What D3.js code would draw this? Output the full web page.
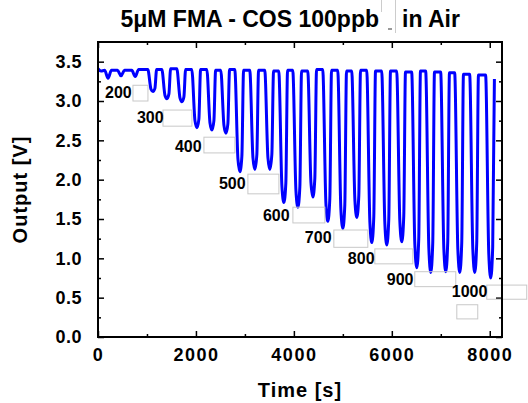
<!DOCTYPE html>
<html>
<head>
<meta charset="utf-8">
<script src="https://cdn.jsdelivr.net/npm/d3@7"></script>
<style>
  body { margin: 0; background: #fff; }
  text { font-family: "Liberation Sans", Arial, sans-serif; font-weight: bold; fill: #000; }
</style>
</head>
<body>
<svg id="chart"></svg>
<script>
(() => {

    const WIDTH = 528;
    const HEIGHT = 403;
    const MARGIN = {top: 42, right: 26, bottom: 66, left: 98};

    // sensor trace, [time (s), output (V)]
    const trace = [
        [0, 3.41], [60, 3.38],
        [135, 3.39], [205, 3.29], [275, 3.39],
        [400, 3.39], [470, 3.32], [540, 3.39],
        [690, 3.39], [760, 3.31], [830, 3.40],
        [1017, 3.40], [1082, 3.15], [1122, 3.12], [1162, 3.16], [1197, 3.40],
        [1303, 3.40], [1368, 3.07], [1408, 3.03], [1448, 3.09], [1483, 3.41],
        [1609, 3.41], [1674, 3.04], [1714, 2.99], [1754, 3.05], [1789, 3.40],
        [1915, 3.40], [1980, 2.75], [2020, 2.66], [2060, 2.77], [2095, 3.40],
        [2222, 3.40], [2287, 2.72], [2327, 2.63], [2367, 2.75], [2402, 3.39],
        [2507, 3.39], [2572, 2.69], [2612, 2.59], [2652, 2.71], [2687, 3.40],
        [2793, 3.40], [2858, 2.26], [2898, 2.10], [2938, 2.30], [2973, 3.39],
        [3099, 3.39], [3164, 2.28], [3204, 2.13], [3244, 2.32], [3279, 3.39],
        [3405, 3.39], [3470, 2.28], [3510, 2.13], [3550, 2.32], [3585, 3.38],
        [3691, 3.38], [3756, 1.91], [3796, 1.71], [3836, 1.96], [3871, 3.39],
        [3977, 3.39], [4042, 1.86], [4082, 1.65], [4122, 1.91], [4157, 3.38],
        [4283, 3.38], [4348, 1.97], [4388, 1.78], [4428, 2.02], [4463, 3.40],
        [4589, 3.40], [4654, 1.70], [4694, 1.47], [4734, 1.76], [4769, 3.39],
        [4895, 3.39], [4960, 1.62], [5000, 1.38], [5040, 1.68], [5075, 3.38],
        [5181, 3.38], [5246, 1.74], [5286, 1.52], [5326, 1.80], [5361, 3.39],
        [5487, 3.39], [5552, 1.46], [5592, 1.20], [5632, 1.53], [5667, 3.38],
        [5793, 3.38], [5858, 1.44], [5898, 1.17], [5938, 1.50], [5973, 3.38],
        [6099, 3.38], [6164, 1.47], [6204, 1.21], [6244, 1.54], [6279, 3.37],
        [6405, 3.37], [6470, 1.18], [6510, 0.88], [6550, 1.25], [6585, 3.38],
        [6691, 3.38], [6756, 1.13], [6796, 0.82], [6836, 1.20], [6871, 3.37],
        [6997, 3.37], [7062, 1.13], [7102, 0.83], [7142, 1.21], [7177, 3.36],
        [7283, 3.36], [7348, 1.12], [7388, 0.82], [7428, 1.20], [7463, 3.34],
        [7589, 3.34], [7654, 1.12], [7694, 0.82], [7734, 1.20], [7769, 3.33],
        [7915, 3.33], [7980, 1.06], [8020, 0.75], [8060, 1.14], [8095, 3.28]
    ];

    // concentration annotations (ppb) and where they sit, in data units
    const concLabels = ["200", "300", "400", "500", "600", "700", "800", "900", "1000"];
    const concAt = [
        [143, 3.04], [796, 2.72], [1571, 2.35], [2469, 1.88], [3367, 1.47],
        [4224, 1.19], [5102, 0.93], [5898, 0.66], [7224, 0.51]
    ];
    // leftover empty text boxes next to the labels: [t0, v0, t1, v1]
    const emptyBoxes = [
        [714, 3.20, 1020, 3.00], [1327, 2.885, 1918, 2.68], [2163, 2.54, 2796, 2.34],
        [3061, 2.07, 3694, 1.82], [3980, 1.65, 4633, 1.45], [4816, 1.36, 5510, 1.14],
        [5653, 1.12, 6429, 0.93], [6469, 0.83, 7306, 0.64], [7939, 0.66, 8755, 0.48],
        [7327, 0.41, 7755, 0.23]
    ];

    const xTicks = [0, 2000, 4000, 6000, 8000];
    const xMinor = [1000, 3000, 5000, 7000];
    const yTicks = [0, 0.5, 1.0, 1.5, 2.0, 2.5, 3.0, 3.5];
    const yMinor = [0.25, 0.75, 1.25, 1.75, 2.25, 2.75, 3.25];

    const innerW = WIDTH - MARGIN.left - MARGIN.right;
    const innerH = HEIGHT - MARGIN.top - MARGIN.bottom;

    const svg = d3.select("#chart")
        .attr("width", WIDTH)
        .attr("height", HEIGHT);

    const g = svg.append("g")
        .attr("transform", `translate(${MARGIN.left},${MARGIN.top})`);

    const x = d3.scaleLinear().domain([0, 8250]).range([0, innerW]);
    const y = d3.scaleLinear().domain([0, 3.75]).range([innerH, 0]);

    function tickAxis(axis, size, cls, transform) {
        const a = g.append("g")
            .attr("class", cls)
            .attr("transform", transform || null)
            .call(axis.tickSize(-size).tickSizeOuter(0));
        a.select(".domain").remove();
        a.selectAll("line").attr("stroke", "#000").attr("stroke-width", 1.5);
        return a;
    }

    // major ticks with labels
    const xAxis = tickAxis(d3.axisBottom(x).tickValues(xTicks).tickFormat(d3.format("d")).tickPadding(11),
        6, "x-axis", `translate(0,${innerH})`);
    xAxis.selectAll("text")
        .style("font-size", "18px")
        .style("letter-spacing", "1.5px");

    const yAxis = tickAxis(d3.axisLeft(y).tickValues(yTicks).tickFormat(d3.format(".1f")).tickPadding(16),
        6, "y-axis");
    yAxis.selectAll("text")
        .style("font-size", "18px")
        .style("letter-spacing", "0.5px");

    // mirrored and minor ticks
    tickAxis(d3.axisTop(x).tickValues(xTicks).tickFormat(""), 6, "x-top");
    tickAxis(d3.axisRight(y).tickValues(yTicks).tickFormat(""), 6, "y-right", `translate(${innerW},0)`);
    tickAxis(d3.axisBottom(x).tickValues(xMinor).tickFormat(""), 3, "x-minor", `translate(0,${innerH})`);
    tickAxis(d3.axisTop(x).tickValues(xMinor).tickFormat(""), 3, "x-minor-top");
    tickAxis(d3.axisLeft(y).tickValues(yMinor).tickFormat(""), 3, "y-minor");
    tickAxis(d3.axisRight(y).tickValues(yMinor).tickFormat(""), 3, "y-minor-right", `translate(${innerW},0)`);

    // the trace
    const line = d3.line()
        .x(d => x(d[0]))
        .y(d => y(d[1]))
        .curve(d3.curveMonotoneX);

    g.append("path")
        .datum(trace)
        .attr("fill", "none")
        .attr("stroke", "#0000ff")
        .attr("stroke-width", 3)
        .attr("stroke-linejoin", "round")
        .attr("d", line);

    // empty boxes
    g.selectAll("rect.box")
        .data(emptyBoxes)
        .enter()
        .append("rect")
        .attr("class", "box")
        .attr("x", d => x(d[0]))
        .attr("y", d => y(d[1]))
        .attr("width", d => x(d[2]) - x(d[0]))
        .attr("height", d => y(d[3]) - y(d[1]))
        .attr("fill", "none")
        .attr("stroke", "#c8c8c8")
        .attr("stroke-width", 1);

    // concentration labels
    g.selectAll("text.conc")
        .data(concLabels)
        .enter()
        .append("text")
        .attr("class", "conc")
        .attr("x", (d, i) => x(concAt[i][0]))
        .attr("y", (d, i) => y(concAt[i][1]))
        .style("font-size", "16px")
        .text(d => d);

    // frame
    g.append("rect")
        .attr("width", innerW)
        .attr("height", innerH)
        .attr("fill", "none")
        .attr("stroke", "#000")
        .attr("stroke-width", 2);

    // axis titles
    svg.append("text")
        .attr("x", MARGIN.left + innerW / 2)
        .attr("y", 397)
        .attr("text-anchor", "middle")
        .style("font-size", "20px")
        .style("letter-spacing", "1px")
        .text("Time [s]");

    svg.append("text")
        .attr("transform", `translate(27,${MARGIN.top + innerH / 2}) rotate(-90)`)
        .attr("text-anchor", "middle")
        .style("font-size", "20px")
        .style("letter-spacing", "1px")
        .text("Output [V]");

    // title, with the stray marks around the gap
    svg.append("text")
        .attr("x", 379)
        .attr("y", 27)
        .attr("text-anchor", "end")
        .style("font-size", "23px")
        .text("5\u03bcM FMA - COS 100ppb");
    svg.append("text")
        .attr("x", 402)
        .attr("y", 27)
        .style("font-size", "23px")
        .text("in Air");
    svg.append("line")
        .attr("x1", 388).attr("x2", 392).attr("y1", 29).attr("y2", 29)
        .attr("stroke", "#555").attr("stroke-width", 1.2);
    svg.append("line")
        .attr("x1", 381.5).attr("x2", 381.5).attr("y1", 0).attr("y2", 12)
        .attr("stroke", "#ccc").attr("stroke-width", 1);
    svg.append("line")
        .attr("x1", 395.5).attr("x2", 395.5).attr("y1", 0).attr("y2", 33)
        .attr("stroke", "#ccc").attr("stroke-width", 1);

})();
</script>
</body>
</html>
